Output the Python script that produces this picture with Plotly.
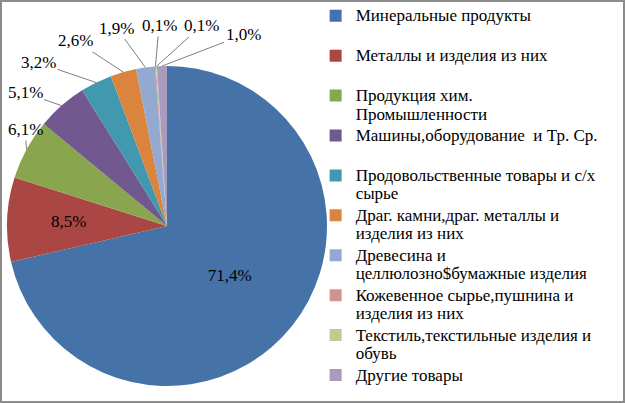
import math
import plotly.graph_objects as go

categories = [
    "Минеральные продукты",
    "Металлы и изделия из них",
    "Продукция хим.<br>Промышленности",
    "Машины,оборудование  и Тр. Ср.",
    "Продовольственные товары и с/х<br>сырье",
    "Драг. камни,драг. металлы и<br>изделия из них",
    "Древесина и<br>целлюлозно$бумажные изделия",
    "Кожевенное сырье,пушнина и<br>изделия из них",
    "Текстиль,текстильные изделия и<br>обувь",
    "Другие товары",
]
values = [71.4, 8.5, 6.1, 5.1, 3.2, 2.6, 1.9, 0.1, 0.1, 1.0]
colors = ["#4572A7", "#AA4643", "#89A54E", "#71588F", "#4198AF",
          "#DB843D", "#93A9CF", "#D19392", "#B9CD96", "#A99BBD"]

labels_pct = [f"{v:.1f}".replace(".", ",") + "%" for v in values]

# ---- layout geometry (pixels) ----
W, H = 625, 403
CX, CY, R = 167, 226, 160
FONT = "Liberation Serif, DejaVu Serif, serif"
LABEL_FONT = dict(family=FONT, size=17, color="black")


def legend_name(s, last):
    lines = s.split("<br>")
    if len(lines) == 1 and not last:
        lines.append("\u00a0")
    return "<br>".join(f"<span style='font-size:17px'>{ln}</span>" for ln in lines)


# ---- slice angles (clockwise from 12 o'clock) ----
total = sum(values)
mid = []
acc = 0.0
for v in values:
    mid.append((acc + v / 2) / total * 360.0)
    acc += v


def edge_point(angle_deg, frac=1.0):
    a = math.radians(angle_deg)
    return CX + frac * R * math.sin(a), CY - frac * R * math.cos(a)


annotations = []

# label of the second slice sits inside it, along its mid-angle
x2, y2 = edge_point(mid[1], 0.74)
annotations.append(dict(x=x2 / W, y=1 - y2 / H, xref="paper", yref="paper",
                        text=labels_pct[1], showarrow=False, font=LABEL_FONT))

# outside labels: spread so they do not overlap (cluster-centering dodge)
out_idx = list(range(2, len(values)))
order = sorted(out_idx, key=lambda i: mid[i])
SEP = 12.0
clusters = [[i] for i in order]


def place(cl):
    c = sum(mid[i] for i in cl) / len(cl)
    return [c + (k - (len(cl) - 1) / 2) * SEP for k in range(len(cl))]


merged = True
while merged:
    merged = False
    for k in range(len(clusters) - 1):
        if place(clusters[k])[-1] + SEP > place(clusters[k + 1])[0]:
            clusters[k] = clusters[k] + clusters.pop(k + 1)
            merged = True
            break
lab_ang = {}
for cl in clusters:
    for i, a in zip(cl, place(cl)):
        lab_ang[i] = a

HW, HH, GAP = 18, 9, 24
for i in out_idx:
    ex, ey = edge_point(mid[i])
    al = math.radians(lab_ang[i])
    rr = R + GAP + HW * abs(math.sin(al)) + HH * abs(math.cos(al)) * 1.8
    lx, ly = CX + rr * math.sin(al), CY - rr * math.cos(al)
    lx = max(lx, HW + 7)
    annotations.append(dict(
        x=ex / W, y=1 - ey / H, xref="paper", yref="paper",
        ax=lx - ex, ay=ly - ey, axref="pixel", ayref="pixel",
        text=labels_pct[i], showarrow=True, arrowhead=0, arrowwidth=1,
        arrowcolor="#7F7F7F", standoff=0, startstandoff=0,
        font=LABEL_FONT,
    ))

text_positions = ["inside"] + ["none"] * (len(values) - 1)

fig = go.Figure(go.Pie(
    labels=[legend_name(c, k == len(categories) - 1) for k, c in enumerate(categories)],
    values=values,
    text=labels_pct,
    textinfo="text",
    textposition=text_positions,
    sort=False,
    direction="clockwise",
    rotation=0,
    marker=dict(colors=colors, line=dict(width=0)),
    insidetextfont=LABEL_FONT,
    insidetextorientation="horizontal",
    domain=dict(x=[(CX - R) / W, (CX + R) / W], y=[1 - (CY + R) / H, 1 - (CY - R) / H]),
    hoverinfo="label+percent",
))

fig.update_layout(
    width=W, height=H,
    margin=dict(l=0, r=0, t=0, b=0, autoexpand=False),
    paper_bgcolor="white",
    font=dict(family=FONT, color="black"),
    showlegend=True,
    legend=dict(
        x=0.505, y=1.0, xanchor="left", yanchor="top",
        font=dict(family=FONT, size=14.2, color="black"),
        valign="top",
        bgcolor="rgba(0,0,0,0)",
        itemclick=False,
    ),
    annotations=annotations,
    shapes=[dict(type="rect", xref="paper", yref="paper",
                 x0=1 / W, y0=1 / H, x1=1 - 1 / W, y1=1 - 1 / H,
                 line=dict(color="#8C8C8C", width=2))],
)

fig.write_html("out.html", config={"displayModeBar": False},
               post_script="document.body.style.margin='0px';")
